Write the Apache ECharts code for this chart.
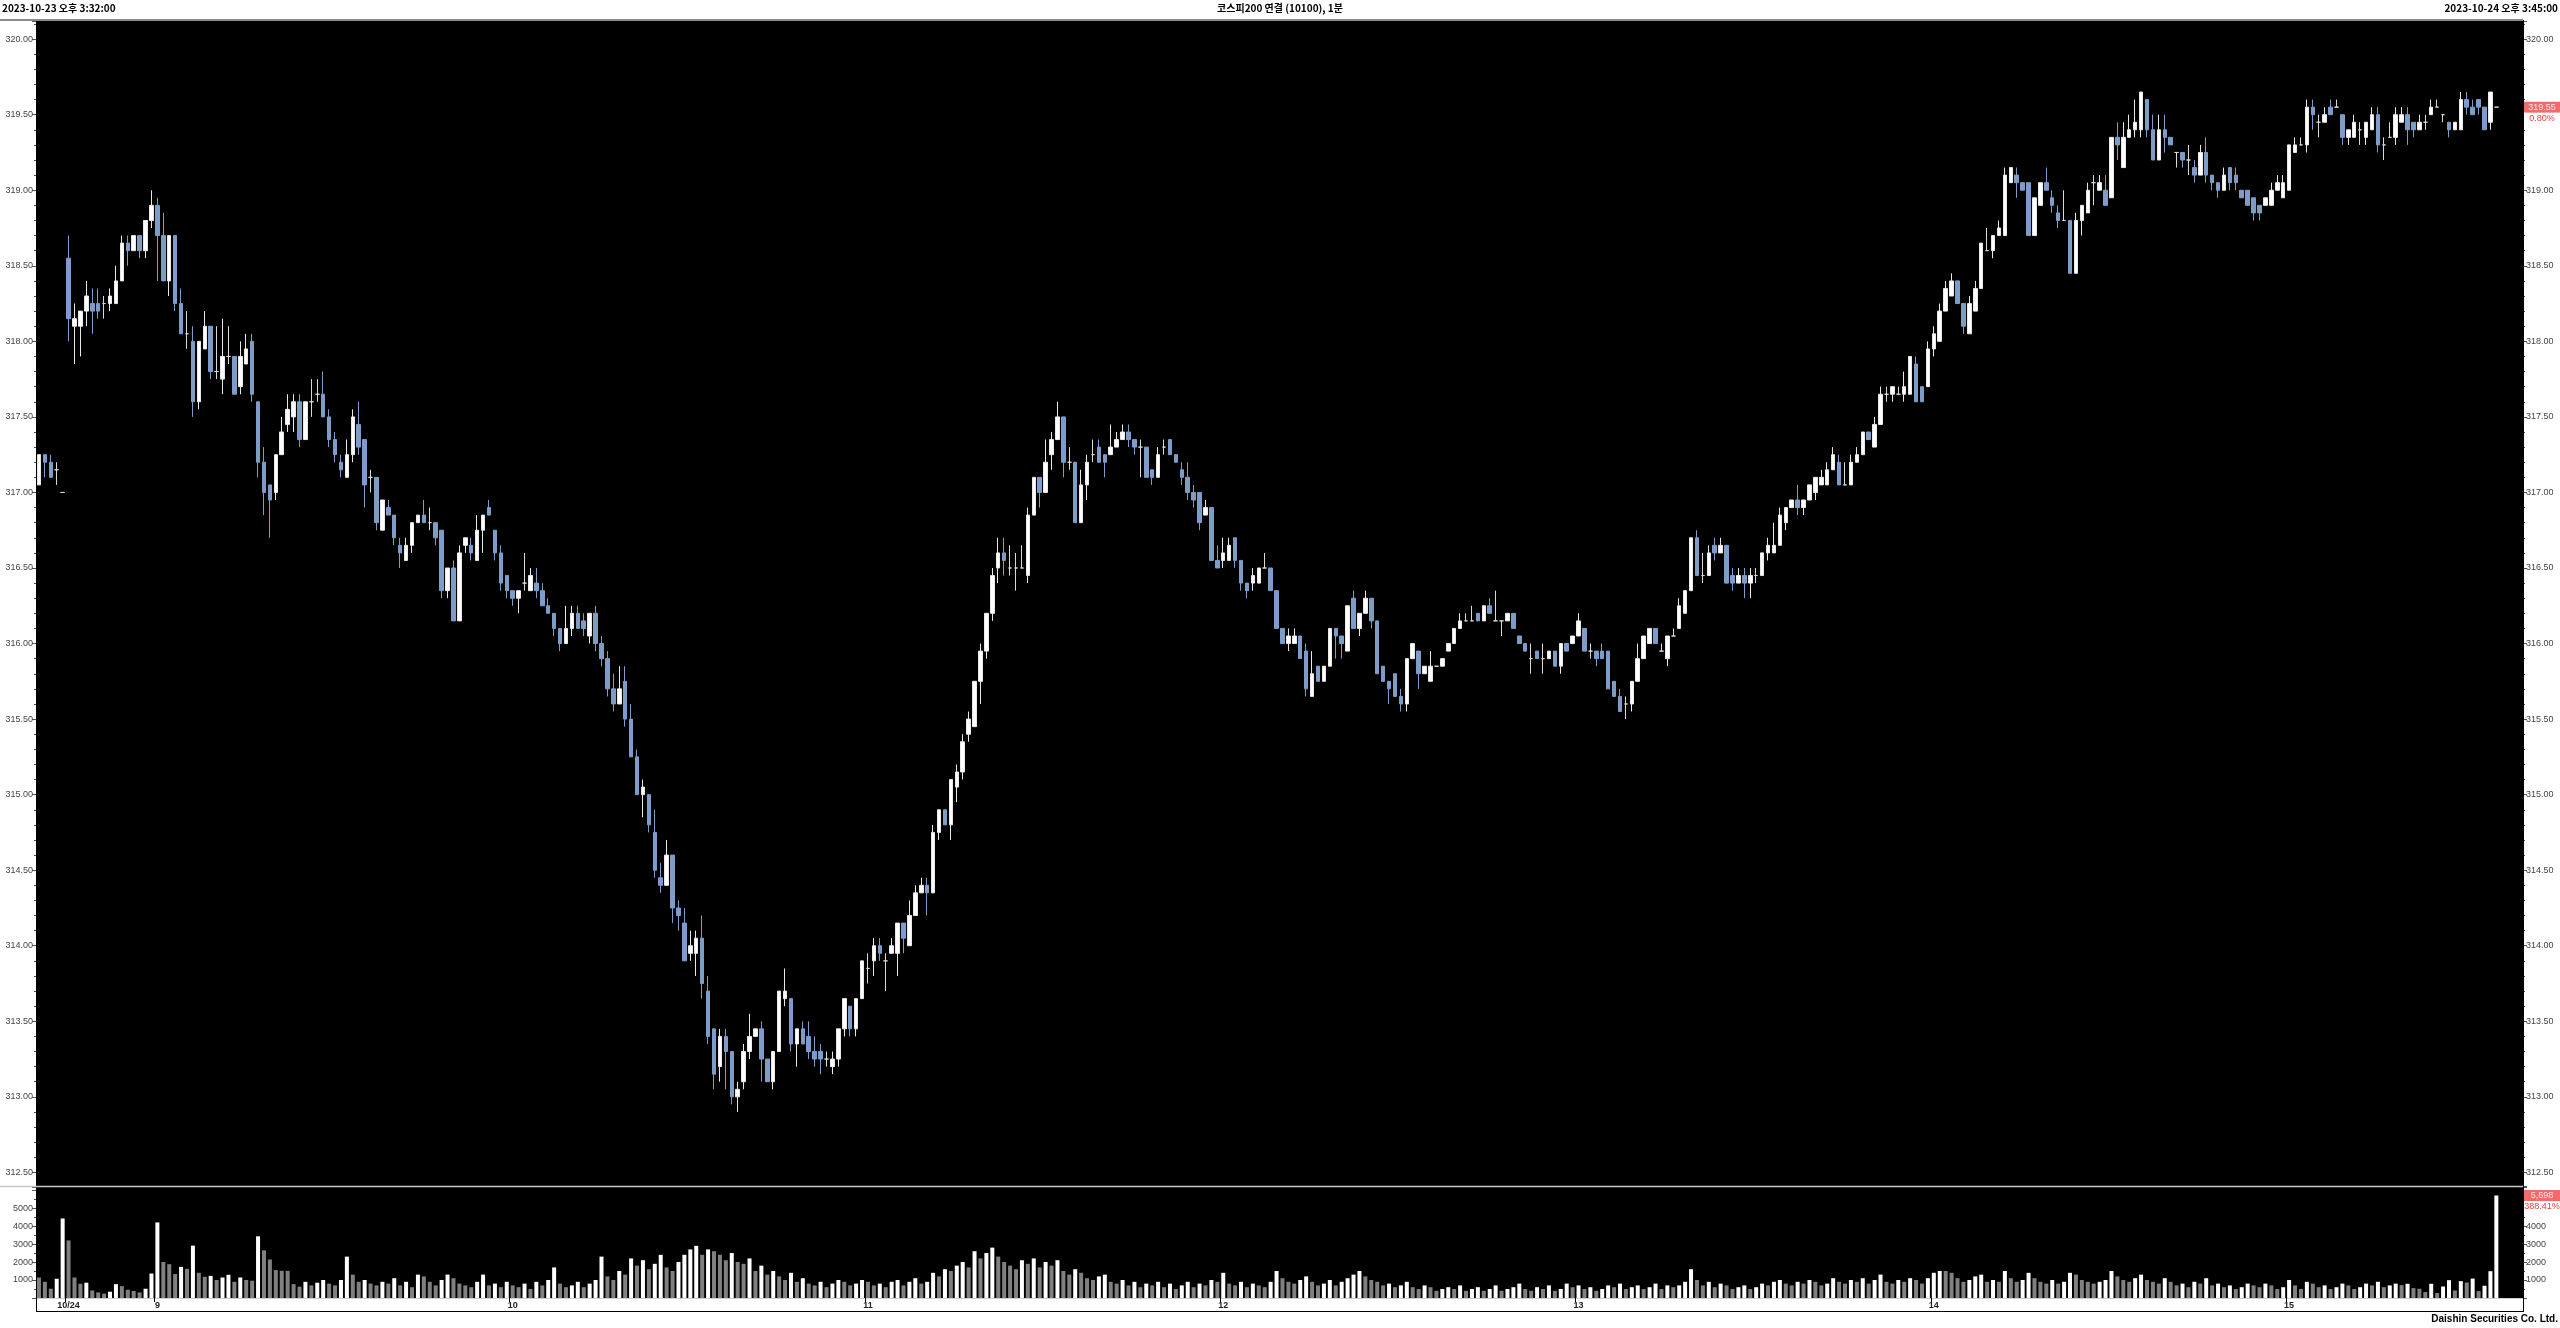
<!DOCTYPE html>
<html><head><meta charset="utf-8">
<script src="https://cdn.jsdelivr.net/npm/echarts@6/dist/echarts.min.js"></script>
<style>html,body{margin:0;padding:0;background:#fff;}#c{width:2560px;height:1328px;}</style>
</head><body><div id="c"></div>
<script>
// ---------- DATA ----------
// candles as [open, high, low, close]
const ohlc_prev = [
[317.05,317.25,317.05,317.25],[317.25,317.25,317.10,317.20],[317.20,317.25,317.10,317.10],[317.15,317.20,317.05,317.15],[317.00,317.00,317.00,317.00]];
const ohlc_0845 = [
[318.55,318.70,318.00,318.15],[318.10,318.25,317.85,318.15],[318.10,318.20,317.90,318.20],[318.20,318.40,318.10,318.30],[318.25,318.35,318.05,318.20],
[318.25,318.35,318.15,318.20],[318.25,318.30,318.15,318.25],[318.25,318.35,318.20,318.30],[318.25,318.50,318.25,318.40],[318.40,318.70,318.40,318.65],
[318.65,318.70,318.50,318.60],[318.60,318.70,318.60,318.70],[318.70,318.70,318.55,318.60],[318.60,318.80,318.55,318.80],[318.80,319.00,318.75,318.90]];
const ohlc_09 = [
[318.90,318.95,318.40,318.70],[318.70,318.85,318.40,318.40],[318.40,318.70,318.30,318.70],[318.70,318.70,318.20,318.25],[318.25,318.35,318.05,318.05],
[318.05,318.20,317.95,318.05],[318.00,318.10,317.50,317.60],[317.60,318.00,317.55,318.00],[317.95,318.20,317.95,318.10],[318.10,318.10,317.75,317.80],
[317.80,318.10,317.75,317.80],[317.75,318.15,317.65,317.90],[317.90,318.10,317.85,317.90],[317.90,317.90,317.65,317.65],[317.70,318.00,317.65,317.90],
[317.85,318.05,317.85,317.95],[318.00,318.05,317.60,317.65],[317.60,317.60,317.10,317.20],[317.20,317.30,316.85,317.00],[317.05,317.05,316.70,316.95],
[317.00,317.25,316.95,317.25],[317.25,317.50,317.25,317.40],[317.45,317.65,317.40,317.55],[317.50,317.65,317.40,317.60],[317.60,317.65,317.30,317.35],
[317.35,317.60,317.35,317.60],[317.60,317.75,317.50,317.60],[317.65,317.75,317.60,317.65],[317.65,317.80,317.50,317.50],[317.50,317.55,317.30,317.35],
[317.35,317.40,317.20,317.25],[317.20,317.25,317.10,317.15],[317.10,317.35,317.10,317.25],[317.25,317.55,317.20,317.50],[317.45,317.60,317.25,317.30],
[317.35,317.35,316.90,317.05],[317.10,317.15,317.00,317.10],[317.10,317.10,316.75,316.80],[316.75,316.95,316.75,316.95],[316.90,316.95,316.85,316.85],
[316.85,316.85,316.65,316.70],[316.65,316.70,316.50,316.60],[316.55,316.70,316.55,316.65],[316.65,316.80,316.60,316.80],[316.80,316.85,316.80,316.85],
[316.85,316.95,316.80,316.80],[316.80,316.90,316.75,316.80],[316.80,316.80,316.65,316.70],[316.75,316.75,316.30,316.35],[316.35,316.50,316.30,316.50],
[316.50,316.55,316.15,316.15],[316.15,316.65,316.15,316.60],[316.65,316.70,316.60,316.70],[316.65,316.70,316.55,316.60],[316.55,316.85,316.55,316.75],
[316.75,316.85,316.60,316.85],[316.90,316.95,316.85,316.85],[316.75,316.75,316.55,316.60],[316.60,316.65,316.35,316.40],[316.45,316.45,316.30,316.35]];
const ohlc_10 = [
[316.35,316.35,316.25,316.30],[316.30,316.35,316.20,316.35],[316.40,316.60,316.35,316.40],[316.35,316.50,316.35,316.45],[316.40,316.50,316.30,316.35],
[316.35,316.40,316.25,316.25],[316.25,316.30,316.20,316.20],[316.20,316.20,316.05,316.10],[316.10,316.10,315.95,316.00],[316.00,316.25,316.00,316.10],
[316.10,316.25,316.05,316.20],[316.20,316.25,316.10,316.10],[316.15,316.20,316.05,316.10],[316.05,316.20,316.00,316.20],[316.20,316.25,315.95,316.00],
[316.00,316.05,315.85,315.90],[315.90,315.95,315.65,315.70],[315.70,315.80,315.55,315.60],[315.60,315.85,315.60,315.70],[315.75,315.85,315.45,315.50],
[315.50,315.60,315.25,315.25],[315.25,315.30,315.00,315.00],[315.00,315.10,314.85,315.05],[315.00,315.00,314.75,314.80],[314.75,314.90,314.45,314.50],
[314.45,314.55,314.35,314.40],[314.40,314.70,314.40,314.60],[314.60,314.60,314.15,314.25],[314.25,314.30,314.10,314.20],[314.15,314.25,313.90,313.90],
[313.95,314.10,313.90,314.00],[313.95,314.10,313.80,314.05],[314.05,314.20,313.65,313.75],[313.70,313.80,313.35,313.40],[313.45,313.45,313.05,313.15],
[313.20,313.45,313.10,313.40],[313.40,313.45,313.05,313.30],[313.30,313.30,312.95,313.00],[313.00,313.10,312.90,313.05],[313.10,313.35,313.05,313.30],
[313.30,313.55,313.25,313.40],[313.40,313.45,313.40,313.45],[313.45,313.50,313.10,313.25],[313.25,313.25,313.10,313.10],[313.10,313.30,313.05,313.30],
[313.30,313.70,313.30,313.70],[313.65,313.85,313.60,313.70],[313.65,313.65,313.30,313.35],[313.35,313.45,313.20,313.45],[313.45,313.50,313.35,313.35],
[313.40,313.50,313.25,313.30],[313.30,313.40,313.20,313.25],[313.30,313.35,313.15,313.25],[313.25,313.30,313.20,313.25],[313.20,313.30,313.15,313.25],
[313.25,313.45,313.20,313.45],[313.45,313.65,313.40,313.65],[313.60,313.60,313.40,313.45],[313.45,313.65,313.40,313.65],[313.65,313.90,313.65,313.90]];
const ohlc_11 = [
[313.85,313.95,313.75,313.85],[313.90,314.05,313.80,314.00],[314.00,314.05,313.90,313.95],[313.90,313.95,313.70,313.90],[313.95,314.05,313.95,314.00],
[313.95,314.15,313.80,314.15],[314.15,314.15,313.95,314.05],[314.00,314.30,314.00,314.20],[314.20,314.40,314.20,314.35],[314.35,314.45,314.35,314.40],
[314.40,314.45,314.20,314.35],[314.35,314.80,314.35,314.75],[314.75,314.90,314.70,314.90],[314.90,314.90,314.80,314.80],[314.80,315.10,314.70,315.10],
[315.05,315.20,314.95,315.15],[315.15,315.40,315.10,315.35],[315.40,315.55,315.35,315.50],[315.45,315.75,315.45,315.75],[315.75,316.00,315.60,315.95],
[315.95,316.20,315.90,316.20],[316.20,316.50,316.15,316.45],[316.50,316.70,316.40,316.60],[316.60,316.70,316.45,316.55],[316.50,316.65,316.45,316.50],
[316.50,316.60,316.35,316.50],[316.50,316.65,316.50,316.50],[316.45,316.90,316.40,316.85],[316.85,317.10,316.85,317.10],[317.10,317.10,316.90,317.00],
[317.00,317.35,317.00,317.20],[317.25,317.40,317.15,317.35],[317.35,317.60,317.35,317.50],[317.50,317.50,317.10,317.20],[317.20,317.30,317.15,317.20],
[317.20,317.20,316.80,316.80],[316.80,317.15,316.80,317.05],[317.05,317.25,316.95,317.20],[317.25,317.35,317.20,317.25],[317.30,317.35,317.20,317.20],
[317.25,317.25,317.10,317.20],[317.25,317.45,317.25,317.30],[317.30,317.40,317.30,317.35],[317.35,317.45,317.35,317.40],[317.40,317.45,317.30,317.35],
[317.35,317.35,317.25,317.30],[317.30,317.35,317.10,317.30],[317.30,317.30,317.10,317.10],[317.15,317.15,317.05,317.10],[317.10,317.30,317.10,317.25],
[317.30,317.35,317.25,317.30],[317.35,317.35,317.25,317.25],[317.25,317.25,317.20,317.20],[317.15,317.20,317.05,317.10],[317.10,317.20,316.95,317.00],
[317.00,317.05,316.90,316.95],[317.00,317.00,316.75,316.80],[316.85,316.95,316.85,316.90],[316.90,316.90,316.55,316.55],[316.55,316.65,316.50,316.50]];
const ohlc_12 = [
[316.55,316.70,316.50,316.60],[316.55,316.70,316.55,316.65],[316.70,316.70,316.50,316.55],[316.55,316.55,316.35,316.40],[316.40,316.40,316.30,316.35],
[316.40,316.50,316.35,316.45],[316.40,316.50,316.40,316.50],[316.50,316.60,316.50,316.50],[316.50,316.50,316.35,316.35],[316.35,316.35,316.10,316.10],
[316.10,316.10,316.00,316.00],[316.00,316.10,315.95,316.05],[316.00,316.10,316.00,316.05],[316.05,316.05,315.90,315.90],[315.95,316.00,315.65,315.70],
[315.65,315.95,315.65,315.80],[315.85,315.85,315.75,315.75],[315.75,315.85,315.75,315.85],[315.85,316.10,315.85,316.10],[316.10,316.10,315.90,316.05],
[316.05,316.05,315.90,316.00],[315.95,316.25,315.95,316.25],[316.30,316.35,316.10,316.10],[316.10,316.20,316.05,316.20],[316.20,316.35,316.20,316.30],
[316.30,316.30,316.10,316.15],[316.15,316.15,315.80,315.80],[315.85,315.85,315.75,315.75],[315.75,315.75,315.60,315.70],[315.80,315.80,315.65,315.65],
[315.65,315.70,315.55,315.60],[315.60,315.90,315.55,315.90],[315.90,316.00,315.90,316.00],[315.95,315.95,315.70,315.80],[315.80,315.85,315.80,315.85],
[315.75,315.95,315.75,315.85],[315.85,315.85,315.85,315.85],[315.85,315.90,315.85,315.90],[315.95,316.00,315.95,316.00],[316.00,316.10,316.00,316.10],
[316.10,316.20,316.10,316.15],[316.15,316.20,316.15,316.15],[316.15,316.25,316.15,316.15],[316.20,316.20,316.15,316.15],[316.15,316.25,316.15,316.25],
[316.25,316.30,316.20,316.20],[316.15,316.35,316.15,316.15],[316.15,316.15,316.05,316.15],[316.15,316.20,316.15,316.20],[316.20,316.20,316.10,316.10],
[316.05,316.05,316.00,316.00],[316.00,316.00,315.95,315.95],[315.90,316.00,315.80,315.90],[315.95,315.95,315.90,315.90],[315.90,316.00,315.80,315.90],
[315.90,315.95,315.90,315.95],[315.95,315.95,315.85,315.85],[315.85,316.00,315.80,316.00],[316.00,316.00,315.95,315.95],[316.00,316.05,316.00,316.05]];
const ohlc_13 = [
[316.05,316.20,316.05,316.15],[316.10,316.10,315.95,315.95],[315.95,316.00,315.90,315.95],[315.95,315.95,315.85,315.90],[315.95,316.00,315.90,315.90],
[315.95,315.95,315.70,315.70],[315.75,315.75,315.65,315.65],[315.65,315.70,315.55,315.55],[315.60,315.65,315.50,315.60],[315.60,315.75,315.55,315.75],
[315.75,316.00,315.75,315.90],[315.90,316.05,315.90,316.05],[316.00,316.10,316.00,316.10],[316.10,316.10,316.00,316.00],[315.95,316.00,315.95,315.95],
[315.90,316.05,315.85,316.05],[316.05,316.10,316.05,316.05],[316.10,316.30,316.10,316.25],[316.20,316.35,316.20,316.35],[316.35,316.70,316.35,316.70],
[316.70,316.75,316.45,316.45],[316.45,316.60,316.40,316.45],[316.45,316.65,316.45,316.60],[316.65,316.70,316.55,316.60],[316.60,316.70,316.60,316.65],
[316.65,316.65,316.40,316.40],[316.45,316.50,316.35,316.40],[316.40,316.50,316.40,316.45],[316.45,316.50,316.30,316.40],[316.40,316.50,316.30,316.45],
[316.45,316.50,316.40,316.45],[316.45,316.60,316.45,316.60],[316.60,316.70,316.55,316.65],[316.60,316.80,316.60,316.65],[316.65,316.90,316.65,316.85],
[316.80,316.90,316.75,316.90],[316.90,316.95,316.90,316.95],[316.95,317.05,316.85,316.90],[316.90,316.95,316.85,316.95],[316.95,317.05,316.95,317.05],
[317.00,317.10,316.95,317.10],[317.05,317.15,317.05,317.10],[317.05,317.20,317.05,317.15],[317.15,317.30,317.15,317.25],[317.20,317.25,317.05,317.05],
[317.05,317.20,317.05,317.05],[317.05,317.25,317.05,317.20],[317.20,317.30,317.20,317.25],[317.25,317.40,317.25,317.40],[317.40,317.40,317.35,317.35],
[317.30,317.50,317.30,317.45],[317.45,317.70,317.45,317.65],[317.65,317.70,317.60,317.65],[317.65,317.70,317.60,317.70],[317.65,317.70,317.65,317.65],
[317.65,317.80,317.60,317.70],[317.65,317.90,317.65,317.90],[317.85,317.90,317.60,317.60],[317.70,317.70,317.60,317.60],[317.70,318.00,317.70,317.95]];
const ohlc_14 = [
[317.95,318.10,317.90,318.05],[318.00,318.25,318.00,318.20],[318.20,318.40,318.20,318.35],[318.30,318.45,318.30,318.40],[318.40,318.40,318.25,318.25],
[318.25,318.25,318.05,318.10],[318.05,318.30,318.05,318.25],[318.20,318.40,318.20,318.35],[318.35,318.65,318.35,318.65],[318.60,318.75,318.60,318.60],
[318.60,318.70,318.55,318.70],[318.70,318.80,318.70,318.75],[318.70,319.15,318.70,319.10],[319.05,319.15,319.05,319.15],[319.10,319.15,318.95,319.05],
[319.05,319.05,319.00,319.00],[319.05,319.05,318.70,318.70],[318.70,318.95,318.70,318.95],[318.90,319.05,318.90,319.05],[319.05,319.15,319.00,319.00],
[318.95,319.00,318.85,318.90],[318.85,318.90,318.75,318.80],[318.80,319.00,318.80,318.80],[318.80,318.80,318.45,318.45],[318.45,318.85,318.45,318.80],
[318.80,318.90,318.70,318.90],[318.85,319.05,318.85,319.00],[319.05,319.10,318.90,319.05],[319.00,319.10,319.00,319.05],[319.00,319.10,318.90,318.90],
[318.95,319.35,318.95,319.35],[319.35,319.45,319.20,319.30],[319.15,319.45,319.15,319.35],[319.35,319.50,319.35,319.40],[319.40,319.60,319.35,319.45],
[319.40,319.65,319.35,319.65],[319.60,319.60,319.35,319.40],[319.40,319.50,319.20,319.20],[319.20,319.50,319.20,319.40],[319.40,319.50,319.25,319.35],
[319.35,319.35,319.30,319.30],[319.25,319.25,319.15,319.25],[319.25,319.25,319.15,319.20],[319.20,319.30,319.10,319.20],[319.15,319.20,319.05,319.10],
[319.10,319.30,319.10,319.25],[319.25,319.35,319.05,319.10],[319.10,319.10,319.00,319.05],[319.05,319.05,318.95,319.00],[319.00,319.15,319.00,319.10],
[319.15,319.15,319.00,319.05],[319.10,319.15,319.00,319.05],[319.00,319.00,318.95,318.95],[319.00,319.00,318.90,318.90],[318.95,318.95,318.80,318.85],
[318.90,318.90,318.80,318.85],[318.90,318.95,318.90,318.95],[318.90,319.05,318.90,319.00],[319.00,319.10,319.00,319.05],[318.95,319.10,318.95,319.05]];
const ohlc_15 = [
[319.00,319.30,319.00,319.30],[319.25,319.35,319.25,319.30],[319.30,319.35,319.30,319.30],[319.30,319.60,319.25,319.55],[319.55,319.60,319.40,319.50],
[319.45,319.50,319.35,319.45],[319.45,319.55,319.45,319.50],[319.55,319.60,319.50,319.50],[319.55,319.60,319.55,319.55],[319.50,319.50,319.30,319.35],
[319.35,319.40,319.30,319.40],[319.35,319.50,319.35,319.45],[319.40,319.45,319.30,319.40],[319.35,319.45,319.30,319.45],[319.40,319.55,319.40,319.50],
[319.50,319.55,319.25,319.30],[319.30,319.35,319.20,319.30],[319.35,319.45,319.35,319.35],[319.35,319.55,319.30,319.50],[319.45,319.55,319.45,319.50],
[319.50,319.55,319.30,319.40],[319.45,319.45,319.35,319.40],[319.40,319.50,319.40,319.45],[319.45,319.50,319.40,319.45],[319.50,319.60,319.50,319.55],
[319.55,319.60,319.55,319.55],[319.50,319.50,319.45,319.50],[319.45,319.45,319.35,319.40],[319.40,319.45,319.40,319.45],[319.40,319.65,319.40,319.60],
[319.60,319.65,319.50,319.55],[319.55,319.60,319.50,319.50],[319.60,319.60,319.50,319.55],[319.55,319.55,319.40,319.40],[319.45,319.65,319.40,319.65],
[319.55,319.55,319.55,319.55]];

const vol_prev = [1140,900,515,1070,4420];
const vol_0845 = [3200,1140,790,850,420,310,240,350,770,660,460,390,310,515,1360];
const vol_09 = [4200,2000,1880,1330,1730,1620,2910,1400,1180,1230,1000,1140,1290,900,1140,1000,960,3430,2650,2140,
1550,1510,1510,770,630,900,700,850,1000,800,700,1000,2300,1300,900,1000,800,700,900,800,
1100,700,900,600,1300,1200,900,700,1000,1300,1100,800,700,600,900,1300,700,800,600,900];
const vol_10 = [700,600,800,500,900,700,1000,1700,800,600,700,900,600,800,1000,2300,1200,1000,1500,1300,
2200,1800,2100,1600,1900,2400,1700,1500,2000,2400,2700,2900,2400,2700,2600,2400,2100,2500,2000,1900,
2200,1500,1800,1300,1500,1200,1000,1400,900,1100,800,700,900,600,800,1000,900,700,800,1000];
const vol_11 = [900,700,800,600,900,1000,700,900,1100,800,900,1400,1200,1600,1500,1800,2000,1700,2600,2200,
2500,2800,2300,2000,1800,1600,2100,1900,2200,1700,2000,1800,2100,1500,1300,1600,1400,1100,1000,1200,
1300,900,800,1000,700,900,600,800,700,900,600,800,500,700,900,600,800,700,1000,900];
const vol_12 = [1400,800,700,900,600,800,700,600,900,1500,1100,900,800,1000,1200,900,700,800,1000,700,
900,1100,1300,1500,1200,1000,900,700,800,600,700,900,600,500,700,600,400,500,600,500,
700,400,500,600,400,500,700,400,500,600,800,500,400,600,500,700,400,500,800,600];
const vol_13 = [700,500,600,400,500,700,600,800,500,600,700,500,600,800,500,700,600,700,900,1600,
1000,700,900,600,800,700,500,600,700,500,600,800,700,900,1000,800,700,900,800,1000,
900,700,800,1100,900,800,1000,900,1100,800,1000,1300,900,800,1000,900,1100,1000,800,1100];
const vol_14 = [1400,1500,1500,1400,1100,900,1000,1200,1300,900,1000,900,1500,1100,900,1000,1400,1100,900,800,
1000,800,900,1400,1300,1000,900,800,900,1000,1500,1200,1000,900,1100,1300,1000,900,800,1100,
900,700,800,600,900,800,1100,700,800,600,700,500,600,800,700,600,800,700,500,600];
const vol_15 = [1000,700,500,900,800,600,700,500,600,800,700,500,600,800,700,900,600,700,800,
715,790,550,515,330,790,275,640,990,420,935,860,1080,385,680,1490,5698];

const prevDayTimes = ['10/23 15:32','10/23 15:33','10/23 15:34','10/23 15:35','10/23 15:45'];
const xTickLabels = {'10/24 08:45':'10/24','10/24 09:00':'9','10/24 10:00':'10','10/24 11:00':'11',
  '10/24 12:00':'12','10/24 13:00':'13','10/24 14:00':'14','10/24 15:00':'15'};
const dayBreak = '10/24 08:45';
const volChangeText = '388.41%';

// ---------- BUILD ----------
const p2 = n => (n < 10 ? '0' : '') + n;
const sessionTimes = [];
for (let m = 8 * 60 + 45; m <= 15 * 60 + 34; m++) sessionTimes.push('10/24 ' + p2(Math.floor(m / 60)) + ':' + p2(m % 60));
sessionTimes.push('10/24 15:45');
const categories = prevDayTimes.concat(sessionTimes, ['pad1', 'pad2', 'pad3', 'pad4']);

const ohlc = [].concat(ohlc_prev, ohlc_0845, ohlc_09, ohlc_10, ohlc_11, ohlc_12, ohlc_13, ohlc_14, ohlc_15);
const volume = [].concat(vol_prev, vol_0845, vol_09, vol_10, vol_11, vol_12, vol_13, vol_14, vol_15);
const candleData = ohlc.map(d => [d[0], d[3], d[2], d[1]]);
const lastClose = ohlc[ohlc.length - 1][3];
const prevClose = ohlc_prev[ohlc_prev.length - 1][3];
const pct = ((lastClose / prevClose - 1) * 100).toFixed(2) + '%';
const lastVol = volume[volume.length - 1];

const isTick = (i, v) => Object.prototype.hasOwnProperty.call(xTickLabels, v);
const isBreak = (i, v) => v === dayBreak;
const AX_FONT = 'Liberation Sans';
const halfFmt = v => (Math.abs(v * 2 - Math.round(v * 2)) < 1e-6 ? v.toFixed(2) : '');

function priceAxis(pos) {
  return {
    type: 'value', gridIndex: 0, position: pos, min: 312.41, max: 320.12,
    splitNumber: 15, minInterval: 0.5, maxInterval: 0.5, scale: true,
    axisLine: {show: true, lineStyle: {color: '#000'}},
    axisTick: {show: true, length: 4, lineStyle: {color: '#555'}},
    minorTick: {show: true, splitNumber: 5, length: 2, lineStyle: {color: '#555'}},
    splitLine: {show: false},
    axisLabel: {formatter: halfFmt, fontSize: 9, color: '#444', margin: 3, fontFamily: AX_FONT}
  };
}
function volAxis(pos) {
  return {
    type: 'value', gridIndex: 1, position: pos, min: 0, max: 6170, interval: 1000,
    axisLine: {show: true, lineStyle: {color: '#000'}},
    axisTick: {show: true, length: 4, lineStyle: {color: '#555'}},
    minorTick: {show: true, splitNumber: 2, length: 2, lineStyle: {color: '#555'}},
    splitLine: {show: false},
    axisLabel: {formatter: v => (v > 0 && v < 6000 ? String(v) : ''), fontSize: 9, color: '#444', margin: 3, fontFamily: AX_FONT}
  };
}
const dashed = {show: true, interval: isBreak, lineStyle: {color: '#6a6a6a', type: [2, 2], width: 1}};
const titleStyle = {fontSize: 10, fontWeight: 'bold', color: '#000', fontFamily: 'Noto Sans CJK KR'};
const tagRich = {
  b: {backgroundColor: '#f26b6b', color: '#ffe6e6', fontSize: 9, width: 36, height: 11, lineHeight: 11, align: 'center', fontFamily: AX_FONT},
  p: {backgroundColor: '#ffffff', color: '#ee3b3b', fontSize: 9, width: 36, height: 11, lineHeight: 11, align: 'center', fontFamily: AX_FONT}
};
function tagLine(value, text1, text2) {
  return {
    silent: true, symbol: 'none', animation: false, z: 50,
    lineStyle: {color: 'rgba(0,0,0,0)', width: 0},
    label: {show: true, position: 'end', distance: 1, padding: [11, 0, 0, 0],
      formatter: '{b|' + text1 + '}\n{p|' + text2 + '}', rich: tagRich},
    emphasis: {disabled: true},
    data: [{yAxis: value}]
  };
}

const chart = echarts.init(document.getElementById('c'), null, {renderer: 'canvas'});
chart.setOption({
  animation: false,
  backgroundColor: '#ffffff',
  title: [
    {text: '2023-10-23 오후 3:32:00', left: 2, top: 3, padding: 0, textStyle: titleStyle},
    {text: '코스피200 연결 (10100), 1분', left: 'center', top: 3, padding: 0, textStyle: titleStyle},
    {text: '2023-10-24 오후 3:45:00', right: 2, top: 3, padding: 0, textStyle: titleStyle},
    {text: 'Daishin Securities Co. Ltd.', right: 2, top: 1314, padding: 0, textStyle: {fontSize: 10, fontWeight: 'bold', color: '#000', fontFamily: AX_FONT}}
  ],
  grid: [
    {left: 36, top: 21, width: 2487, height: 1165, show: true, backgroundColor: '#000', borderWidth: 0},
    {left: 36, top: 1187, width: 2487, height: 111, show: true, backgroundColor: '#000', borderWidth: 0}
  ],
  xAxis: [
    {type: 'category', gridIndex: 0, data: categories, boundaryGap: true,
     axisLine: {show: false}, axisTick: {show: false}, axisLabel: {show: false}, splitLine: dashed},
    {type: 'category', gridIndex: 1, data: categories, boundaryGap: true,
     axisLine: {show: true, lineStyle: {color: '#cfcfcf'}},
     axisTick: {show: true, interval: isTick, length: 4, lineStyle: {color: '#000'}},
     axisLabel: {interval: isTick, formatter: v => xTickLabels[v] || '', fontSize: 9, fontWeight: 'bold', color: '#222', margin: 3, fontFamily: AX_FONT},
     splitLine: dashed}
  ],
  yAxis: [priceAxis('left'), priceAxis('right'), volAxis('left'), volAxis('right')],
  series: [
    {type: 'candlestick', name: 'price', xAxisIndex: 0, yAxisIndex: 0, data: candleData, barWidth: 4, z: 5,
     itemStyle: {color: '#ffffff', color0: '#7d9cc8', borderColor: '#e8e8e8', borderColor0: '#7d9cc8', borderColorDoji: '#d8d8d8', borderWidth: 1},
     markLine: tagLine(lastClose, lastClose.toFixed(2), pct)},
    {type: 'bar', name: 'volume', xAxisIndex: 1, yAxisIndex: 2, data: volume, barWidth: 4, z: 5,
     itemStyle: {color: p => (p.dataIndex > 0 && volume[p.dataIndex] > volume[p.dataIndex - 1]) ? '#ffffff' : '#808080'},
     markLine: tagLine(lastVol, lastVol.toLocaleString('en-US'), volChangeText)}
  ],
  graphic: [
    {type: 'line', z: 100, shape: {x1: 0, y1: 20, x2: 2523, y2: 20}, style: {stroke: '#8a8a8a', lineWidth: 2}},
    {type: 'line', z: 100, shape: {x1: 0, y1: 1186.5, x2: 2523, y2: 1186.5}, style: {stroke: '#c8c8c8', lineWidth: 1.5}},
    {type: 'line', z: 100, shape: {x1: 2523.5, y1: 20, x2: 2523.5, y2: 1312}, style: {stroke: '#000', lineWidth: 1}},
    {type: 'line', z: 100, shape: {x1: 36.5, y1: 1298, x2: 36.5, y2: 1312}, style: {stroke: '#000', lineWidth: 1}},
    {type: 'line', z: 100, shape: {x1: 36, y1: 1311.5, x2: 2524, y2: 1311.5}, style: {stroke: '#000', lineWidth: 1}}
  ]
});
</script></body></html>
